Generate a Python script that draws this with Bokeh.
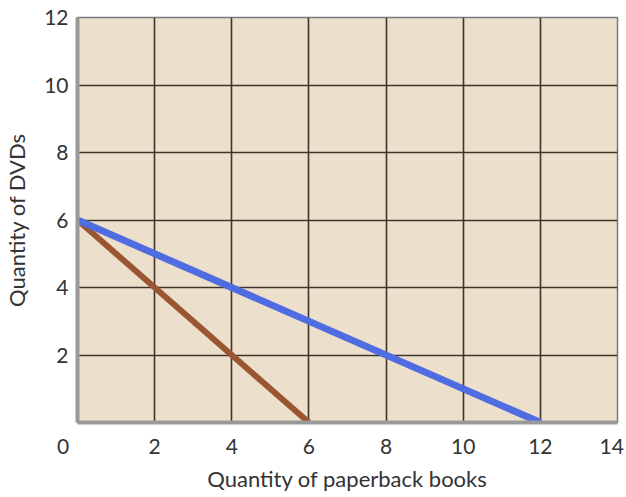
from bokeh.plotting import figure
from bokeh.models import FixedTicker, Range1d
from bokeh.embed import file_html
from bokeh.resources import INLINE

# Data
x_ticks = [0, 2, 4, 6, 8, 10, 12, 14]
y_ticks = [2, 4, 6, 8, 10, 12]
brown_x = [0, 6]
brown_y = [6, 0]
blue_x = [0, 12]
blue_y = [6, 0]

FONT = "Lato"

p = figure(frame_width=540, frame_height=405, output_backend="svg", toolbar_location=None,
           x_range=Range1d(0, 14), y_range=Range1d(0, 12),
           min_border_left=77, min_border_right=9, min_border_top=17, min_border_bottom=75)
p.background_fill_color = "#ecdfcb"
p.border_fill_color = "white"
p.outline_line_color = "#7a7a7a"
p.outline_line_width = 1.5

p.xaxis.ticker = FixedTicker(ticks=x_ticks)
p.yaxis.ticker = FixedTicker(ticks=y_ticks)
# corner "0" sits left of the origin; "14" nudged to stay inside the page
p.xaxis.major_label_overrides = {0: "0\u2007\u2007\u2008", 14: "14\u2009"}
for ax in (p.xaxis[0], p.yaxis[0]):
    ax.major_tick_line_color = None
    ax.minor_tick_line_color = None
    ax.axis_line_color = "#9a9a9a"
    ax.axis_line_width = 4
    ax.major_label_text_font = FONT
    ax.major_label_text_font_size = "21px"
    ax.major_label_text_color = "#333333"
    ax.axis_label_text_font = FONT
    ax.axis_label_text_font_size = "22px"
    ax.axis_label_text_font_style = "normal"
    ax.axis_label_text_color = "#333333"
p.xaxis.axis_label = "Quantity of paperback books"
p.yaxis.axis_label = "Quantity of DVDs"
p.xaxis.major_label_standoff = 4
p.yaxis.major_label_standoff = 3
p.xaxis.axis_label_standoff = 4
p.yaxis.axis_label_standoff = 11

p.grid.grid_line_color = "#3d352b"
p.grid.grid_line_width = 1.6
p.grid.grid_line_alpha = 1.0

p.line(brown_x, brown_y, line_color="#9a5633", line_width=6)
p.line(blue_x, blue_y, line_color="#4f6ce0", line_width=7)

open("out.html", "w").write(file_html(p, INLINE))
